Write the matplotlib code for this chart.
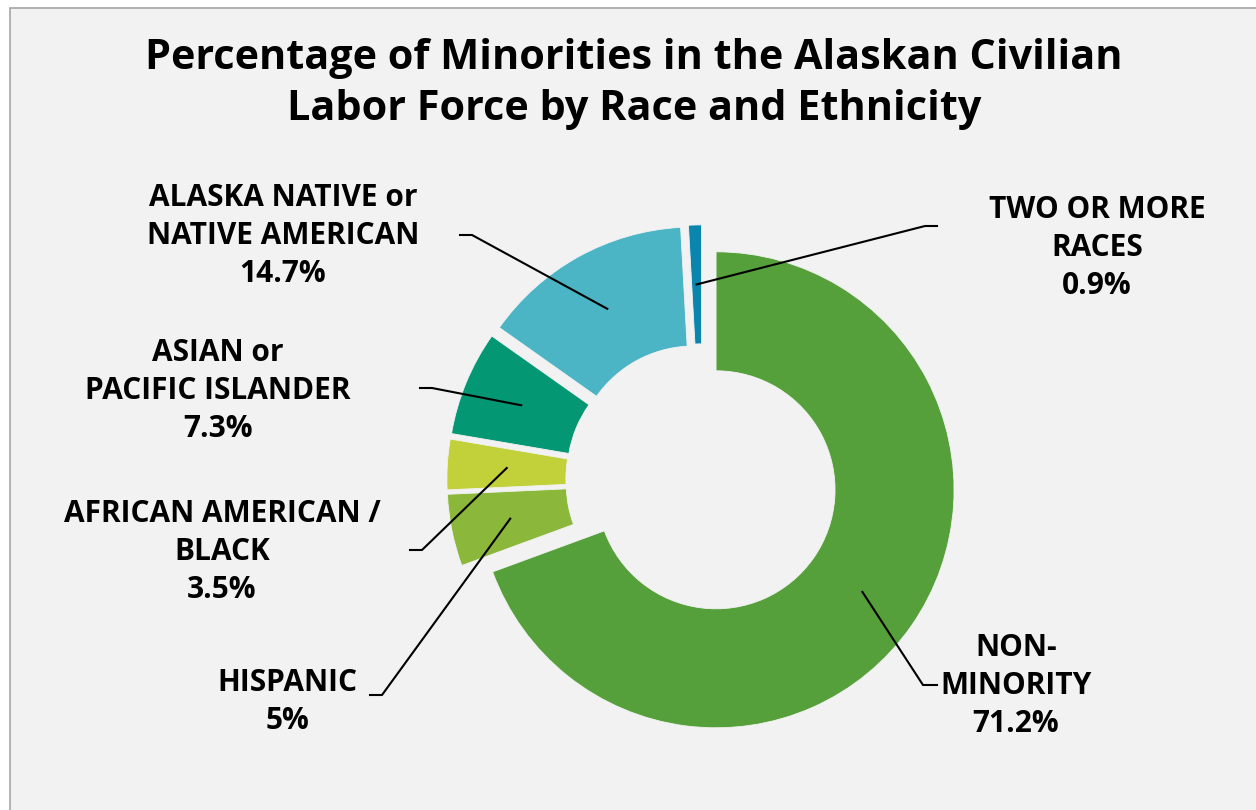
import numpy as np
import matplotlib
matplotlib.use('Agg')
import matplotlib.pyplot as plt
from matplotlib.patches import Rectangle

plt.rcParams['font.family'] = ['Open Sans', 'DejaVu Sans']

# data
groups = ['NON-\nMINORITY', 'HISPANIC', 'AFRICAN AMERICAN /\nBLACK',
          'ASIAN or\nPACIFIC ISLANDER', 'ALASKA NATIVE or\nNATIVE AMERICAN',
          'TWO OR MORE\nRACES']
pct = [71.2, 5, 3.5, 7.3, 14.7, 0.9]
pct_text = ['71.2%', '5%', '3.5%', '7.3%', '14.7%', '0.9%']
colors = ['#55A03A', '#8BB83A', '#C2D13A', '#039773', '#4BB5C5', '#0A86AE']
explode = [0.072] * 6

# layout in figure pixels (from top-left): label centre, stub end, elbow
W, H = 1256, 810
label_xy = [(1016, 686), (287, 702), (222, 552), (218, 391), (283, 236), (1097, 248)]
stub = [((937, 685), (923, 685)), ((370, 695), (382, 695)), ((410, 550), (422, 550)),
        ((420, 388), (432, 388)), ((460, 235), (472, 235)), ((937, 226), (925, 226))]

R = 238.0
cx, cy = 702, 480

fig = plt.figure(figsize=(W / 100, H / 100), dpi=100)
fig.patch.set_facecolor('white')
fig.add_artist(Rectangle((10 / W, -0.05), 1.1, (H - 8) / H + 0.05, transform=fig.transFigure,
                         facecolor='#F2F2F2', edgecolor='#A6A6A6', linewidth=1.2, zorder=0))

ax = fig.add_axes([0, 0, 1, 1])
ax.patch.set_alpha(0)
wedges, _ = ax.pie(pct, colors=colors, explode=explode, startangle=90, counterclock=False,
                   radius=1, wedgeprops=dict(width=0.5, edgecolor='#F2F2F2', linewidth=0.6))
ax.set_xlim(-cx / R, (W - cx) / R)
ax.set_ylim(-(H - cy) / R, cy / R)
ax.axis('off')

fig.text(634 / W, 1 - 84 / H, 'Percentage of Minorities in the Alaskan Civilian\nLabor Force by Race and Ethnicity',
         ha='center', va='center', fontsize=29.8, fontweight='bold', linespacing=1.31)

to_fig = fig.transFigure.inverted()
for i, w in enumerate(wedges):
    mid = np.deg2rad((w.theta1 + w.theta2) / 2)
    tip = (w.center[0] + 0.75 * np.cos(mid), w.center[1] + 0.75 * np.sin(mid))
    tip_px = ax.transData.transform(tip)
    (sx, sy), (ex, ey) = stub[i]
    xs = [sx, ex, tip_px[0]]
    ys = [H - sy, H - ey, tip_px[1]]
    pts = to_fig.transform(np.column_stack([xs, ys]))
    fig.add_artist(plt.Line2D(pts[:, 0], pts[:, 1], transform=fig.transFigure,
                              color='black', linewidth=1.5))
    lx, ly = label_xy[i]
    fig.text(lx / W, 1 - ly / H, groups[i] + '\n' + pct_text[i], ha='center', va='center',
             fontsize=21.5, fontweight='bold', linespacing=1.34)

fig.savefig('out.png', dpi=100)
